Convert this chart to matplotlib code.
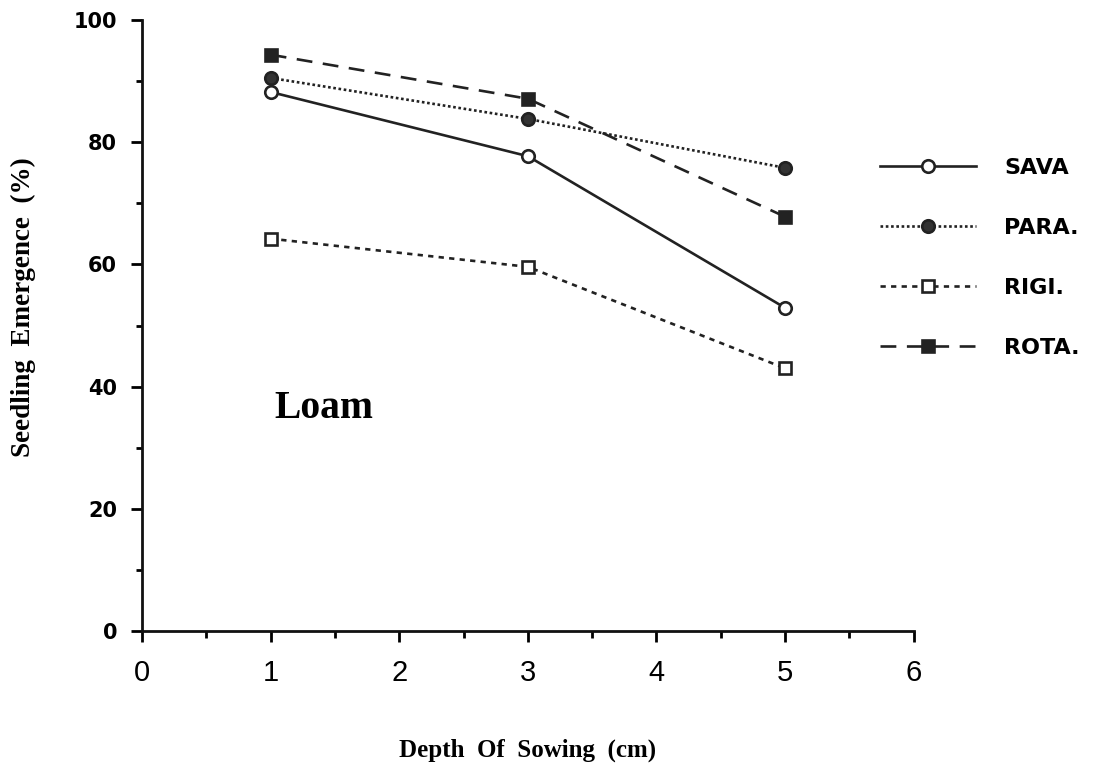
import matplotlib
matplotlib.use("Agg")
import matplotlib.pyplot as plt
from matplotlib.ticker import MultipleLocator

# data
depth = [1, 3, 5]
sava = [88.2, 77.7, 52.9]
para = [90.5, 83.8, 75.8]
rigi = [64.2, 59.6, 43.0]
rota = [94.3, 87.1, 67.8]

series = [
    ("SAVA", sava, dict(linestyle="-", marker="o", mfc="white")),
    ("PARA.", para, dict(linestyle=(0, (1, 1)), marker="o", mfc="#333333")),
    ("RIGI.", rigi, dict(linestyle=(0, (2, 2)), marker="s", mfc="white")),
    ("ROTA.", rota, dict(linestyle=(0, (6, 4)), marker="s", mfc="#222222")),
]

fig = plt.figure(figsize=(11.02, 7.65), dpi=100)
ax = fig.add_axes([0.129, 0.175, 0.70, 0.799])

for name, vals, style in series:
    ax.plot(depth, vals, color="#222222", lw=1.9, ms=9, mec="#222222",
            mew=1.9, label=name, **style)

ax.set_xlim(0, 6)
ax.set_ylim(0, 100)
ax.xaxis.set_major_locator(MultipleLocator(1))
ax.xaxis.set_minor_locator(MultipleLocator(0.5))
ax.yaxis.set_major_locator(MultipleLocator(20))
ax.yaxis.set_minor_locator(MultipleLocator(10))

for s in ["top", "right"]:
    ax.spines[s].set_visible(False)
for s in ["left", "bottom"]:
    ax.spines[s].set_linewidth(2)
    ax.spines[s].set_color("#111111")

ax.tick_params(axis="x", which="major", direction="out", length=8, width=2,
               labelsize=21, pad=12)
ax.tick_params(axis="x", which="minor", direction="out", length=5, width=2)
ax.tick_params(axis="y", which="major", direction="out", length=8, width=2,
               labelsize=15, pad=10)
ax.tick_params(axis="y", which="minor", direction="out", length=4, width=2)
for lab in ax.get_yticklabels():
    lab.set_fontweight("bold")
    lab.set_family("DejaVu Sans")
for lab in ax.get_xticklabels():
    lab.set_family("Liberation Sans")

ax.set_xlabel("Depth  Of  Sowing  (cm)", family="Liberation Serif",
              fontweight="bold", fontsize=18, labelpad=37)
ax.set_ylabel("Seedling  Emergence  (%)", family="Liberation Serif",
              fontweight="bold", fontsize=19.5)
ax.yaxis.set_label_coords(-0.138, 0.53)

ax.text(1.03, 36.5, "Loam", family="Liberation Serif", fontweight="bold",
        fontsize=28.5, va="center", ha="left")

leg = fig.legend(loc="upper left", bbox_to_anchor=(880 / 1102, 1 - 158 / 765),
                 frameon=False, borderpad=0, borderaxespad=0,
                 handlelength=4.3, handletextpad=1.3, labelspacing=1.8,
                 prop=dict(family="DejaVu Sans", weight="bold", size=16))

fig.savefig("out.png", dpi=100)
